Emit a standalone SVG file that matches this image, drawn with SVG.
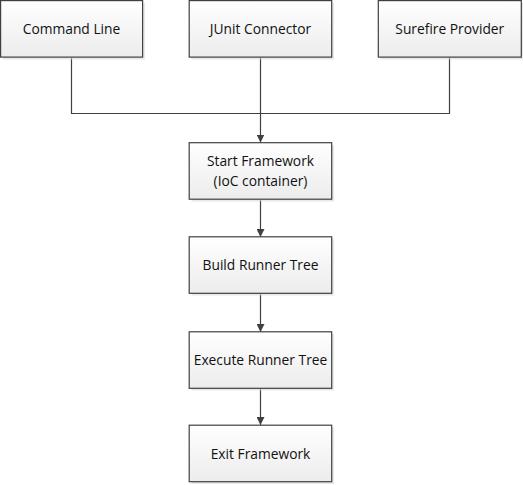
<svg xmlns="http://www.w3.org/2000/svg" width="523" height="485" viewBox="0 0 523 485">
<defs>
<linearGradient id="g" x1="0" y1="0" x2="0" y2="1">
<stop offset="0" stop-color="#ffffff"/>
<stop offset="1" stop-color="#ececec"/>
</linearGradient>
<marker id="arr" viewBox="0 0 10 10" refX="10" refY="5" markerWidth="8" markerHeight="8" markerUnits="userSpaceOnUse" orient="auto">
<path d="M0,0 L10,5 L0,10 z" fill="#404040"/>
</marker>
<style>
.box{fill:url(#g);stroke:#404040;stroke-width:1.2}
.sh{fill:#d9d9d9;opacity:0.6}
.t{font-family:"Open Sans","Liberation Sans",sans-serif;font-size:13.8px;fill:#111111;text-anchor:middle}
.c{fill:none;stroke:#404040;stroke-width:1.2}
</style>
</defs>
<g id="connectors">
<path class="c" d="M71.5,57 V113.5 H449.5 V57"/>
<path class="c" d="M260.5,57 V142.5" marker-end="url(#arr)"/>
<path class="c" d="M260.5,199.5 V237" marker-end="url(#arr)"/>
<path class="c" d="M260.5,293 V332" marker-end="url(#arr)"/>
<path class="c" d="M260.5,388.5 V425" marker-end="url(#arr)"/>
</g>
<g id="command-line">
<rect class="sh" x="3" y="3" width="142" height="56.5"/>
<rect class="box" x="0.6" y="0.6" width="142" height="56.5"/>
<text class="t" x="71.5" y="33.5">Command Line</text>
</g>
<g id="junit-connector">
<rect class="sh" x="191.5" y="3" width="142.5" height="56.5"/>
<rect class="box" x="189.2" y="0.6" width="142.5" height="56.5"/>
<text class="t" x="260.5" y="33.5">JUnit Connector</text>
</g>
<g id="surefire-provider">
<rect class="sh" x="380.5" y="3" width="142.5" height="56.5"/>
<rect class="box" x="378.3" y="0.6" width="143" height="56.5"/>
<text class="t" x="449.8" y="33.5">Surefire Provider</text>
</g>
<g id="start-framework">
<rect class="sh" x="191.5" y="145" width="142.5" height="56.5"/>
<rect class="box" x="189.2" y="142.7" width="142.5" height="56.5"/>
<text class="t" x="260.5" y="166">Start Framework</text>
<text class="t" x="260.5" y="186">(IoC container)</text>
</g>
<g id="build-runner-tree">
<rect class="sh" x="191.5" y="239" width="142.5" height="56.5"/>
<rect class="box" x="189.2" y="236.8" width="142.5" height="56.5"/>
<text class="t" x="260.5" y="270">Build Runner Tree</text>
</g>
<g id="execute-runner-tree">
<rect class="sh" x="191.5" y="334" width="142.5" height="56.5"/>
<rect class="box" x="189.2" y="331.8" width="142.5" height="56.5"/>
<text class="t" x="260.5" y="365">Execute Runner Tree</text>
</g>
<g id="exit-framework">
<rect class="sh" x="191.5" y="427.5" width="142.5" height="56.5"/>
<rect class="box" x="189.2" y="425.2" width="142.5" height="56.5"/>
<text class="t" x="260.5" y="458.5">Exit Framework</text>
</g>
</svg>
